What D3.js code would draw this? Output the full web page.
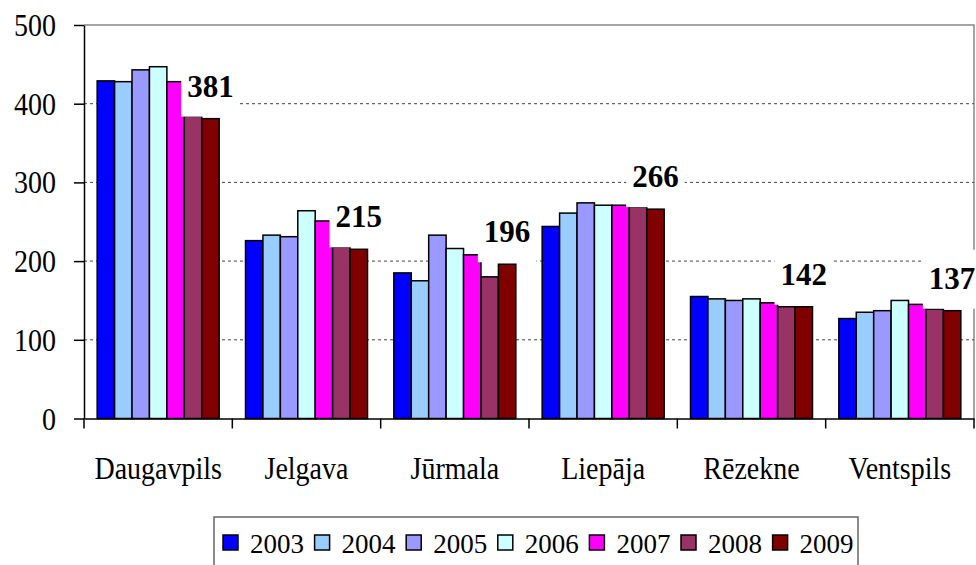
<!DOCTYPE html>
<html>
<head>
<meta charset="utf-8">
<script src="https://cdn.jsdelivr.net/npm/d3@7"></script>
<style>
body { margin: 0; background: #fff; }
svg text { font-family: "Liberation Serif", "Times New Roman", serif; }
</style>
</head>
<body>
<div id="chart"></div>
<script>
// cities and years
var cities = ["Daugavpils", "Jelgava", "Jūrmala", "Liepāja", "Rēzekne", "Ventspils"];
var years = ["2003", "2004", "2005", "2006", "2007", "2008", "2009"];
var colors = ["#0000FF", "#99CCFF", "#9999FF", "#CCFFFF", "#FF00FF", "#993366", "#800000"];

// values per year, in city order
var v2003 = [429, 226, 185, 244, 155, 127];
var v2004 = [428, 233, 175, 261, 152, 135];
var v2005 = [443, 231, 233, 274, 150, 137];
var v2006 = [447, 264, 216, 271, 152, 150];
var v2007 = [428, 251, 208, 271, 147, 145];
var v2008 = [384, 218, 180, 269, 142, 139];
var v2009 = [381, 215, 196, 266, 142, 137];
var series = [v2003, v2004, v2005, v2006, v2007, v2008, v2009];

var yTicks = [0, 100, 200, 300, 400, 500];

function drawChart() {
	var width = 976, height = 565;
	var pL = 84, pR = 974, pT = 25, pB = 418.5;

	var svg = d3.select("#chart").append("svg")
		.attr("width", width)
		.attr("height", height);

	var x0 = d3.scaleBand().domain(cities).range([pL, pR]);
	var groupW = 122;
	var x1 = d3.scaleBand().domain(years).range([0, groupW]);
	var y = d3.scaleLinear().domain([0, 500]).range([pB, pT]);

	// plot border (top + right), gray
	svg.append("path")
		.attr("d", "M" + pL + "," + pT + "H" + pR + "V" + pB)
		.attr("fill", "none")
		.attr("stroke", "#888")
		.attr("stroke-width", 1.5);

	// gridlines
	svg.selectAll(".grid").data(yTicks.filter(function(d) { return d > 0 && d < 500; }))
		.enter().append("line")
		.attr("x1", pL).attr("x2", pR)
		.attr("y1", function(d) { return y(d); })
		.attr("y2", function(d) { return y(d); })
		.attr("stroke", "#444")
		.attr("stroke-width", 1)
		.attr("stroke-dasharray", "3,3");

	// bars
	var groups = svg.selectAll(".grp").data(cities).enter().append("g")
		.attr("transform", function(c) { return "translate(" + (x0(c) + (x0.bandwidth() - groupW) / 2) + ",0)"; });

	groups.selectAll("rect")
		.data(function(c, ci) { return years.map(function(yr, yi) { return { yr: yr, yi: yi, v: series[yi][ci] }; }); })
		.enter().append("rect")
		.attr("x", function(d) { return x1(d.yr); })
		.attr("width", x1.bandwidth())
		.attr("y", function(d) { return y(d.v); })
		.attr("height", function(d) { return y(0) - y(d.v); })
		.attr("fill", function(d) { return colors[d.yi]; })
		.attr("stroke", "#000")
		.attr("stroke-width", 1.5);

	// y axis
	var yAxis = svg.append("g")
		.attr("transform", "translate(" + pL + ",0)")
		.call(d3.axisLeft(y).tickValues(yTicks).tickSize(10).tickSizeOuter(0).tickFormat(d3.format("d")));
	yAxis.select(".domain").attr("stroke", "#000").attr("stroke-width", 1.5);
	yAxis.selectAll(".tick line").attr("stroke", "#000").attr("stroke-width", 1.5);
	yAxis.selectAll(".tick text")
		.attr("x", 0).attr("dy", null)
		.attr("transform", "translate(-28,0) scale(1,1.12)")
		.attr("dominant-baseline", "central")
		.attr("font-size", 28)
		.attr("fill", "#000");

	// x axis line, category labels and boundary ticks
	var xAxis = svg.append("g")
		.attr("transform", "translate(0," + pB + ")")
		.call(d3.axisBottom(x0).tickSize(0).tickSizeOuter(0));
	xAxis.select(".domain").attr("stroke", "#000").attr("stroke-width", 1.5);
	xAxis.selectAll(".tick text")
		.attr("y", 0).attr("dy", null)
		.attr("transform", "translate(0,60) scale(1,1.12)")
		.attr("font-size", 28)
		.attr("fill", "#000");

	var bounds = cities.map(function(c) { return x0(c); }).concat([pR]);
	xAxis.selectAll(".btick").data(bounds).enter().append("line")
		.attr("x1", function(d) { return d; }).attr("x2", function(d) { return d; })
		.attr("y1", 0).attr("y2", 10)
		.attr("stroke", "#000").attr("stroke-width", 1.5);

	// value labels on 2009 bars, with white box behind
	svg.selectAll(".lbl").data(cities).enter().append("g")
		.each(function(c, ci) {
			var g = d3.select(this);
			var cx = x0(c) + (x0.bandwidth() - groupW) / 2 + x1("2009") + x1.bandwidth() / 2;
			var base = y(v2009[ci]) - 22;
			var rect = g.append("rect").attr("fill", "#fff");
			var t = g.append("text")
				.attr("x", cx).attr("y", base)
				.attr("text-anchor", "middle")
				.attr("font-size", 31)
				.attr("font-weight", "bold")
				.text(v2009[ci]);
			var w = t.node().getComputedTextLength();
			rect.attr("x", cx - w / 2 - 6).attr("width", w + 12)
				.attr("y", base - 39).attr("height", 59);
		});

	// legend
	var lg = svg.append("g");
	lg.append("rect")
		.attr("x", 214).attr("y", 517).attr("width", 644).attr("height", 60)
		.attr("fill", "#fff").attr("stroke", "#666").attr("stroke-width", 1.5);
	var items = lg.selectAll(".item").data(years).enter().append("g")
		.attr("transform", function(d, i) { return "translate(" + (223 + i * 91.6) + ",0)"; });
	items.append("rect")
		.attr("x", 0).attr("y", 535).attr("width", 15).attr("height", 15)
		.attr("fill", function(d, i) { return colors[i]; })
		.attr("stroke", "#000").attr("stroke-width", 1.5);
	items.append("text")
		.attr("x", 27).attr("y", 553)
		.attr("font-size", 27)
		.text(function(d) { return d; });
}

drawChart();
</script>
</body>
</html>
